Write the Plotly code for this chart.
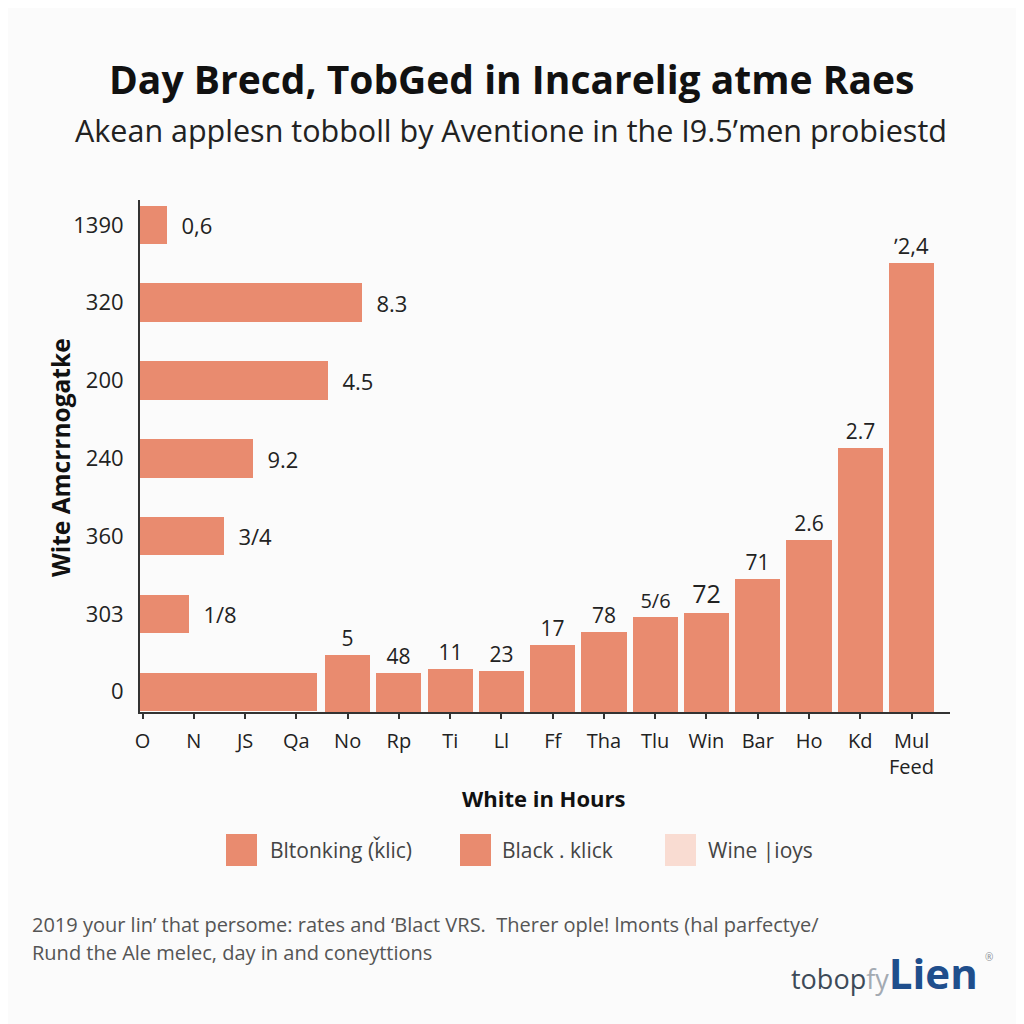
import plotly.graph_objects as go

# ---------------- data ----------------
x_categories = ["O", "N", "JS", "Qa", "No", "Rp", "Ti", "Ll", "Ff", "Tha", "Tlu", "Win", "Bar", "Ho", "Kd", "Mul"]
x_ticktext = ["O", "N", "JS", "Qa", "No", "Rp", "Ti", "Ll", "Ff", "Tha", "Tlu", "Win", "Bar", "Ho", "Kd", "Mul<br>Feed"]

col_categories = ["No", "Rp", "Ti", "Ll", "Ff", "Tha", "Tlu", "Win", "Bar", "Ho", "Kd", "Mul"]
col_values = [11.1, 7.6, 8.4, 8.0, 13.1, 15.6, 18.6, 19.3, 26.0, 33.6, 51.6, 87.7]
col_labels = ["5", "48", "11", "23", "17", "78", "5/6", "72", "71", "2.6", "2.7", "ʼ2,4"]
col_label_sizes = [21, 21, 21, 21, 21, 21, 20, 25, 21, 21, 21, 22]

row_categories = ["0", "303", "360", "240", "200", "320", "1390"]
row_values = [21.9, 6.0, 10.4, 14.0, 23.2, 27.4, 3.3]
row_labels = ["", "1/8", "3/4", "9.2", "4.5", "8.3", "0,6"]

legend_labels = ["Bltonking (ǩlic)", "Black . klick", "Wine |ioys"]

title_text = "Day Brecd, TobGed in Incarelig atme Raes"
subtitle_text = "Akean applesn tobboll by Aventione in the I9.5’men probiestd"
y_title = "Wite Amcrrnogatke"
x_title = "White in Hours"
foot_1 = "2019 your lin’ that persome: rates and ‘Blact VRS.  Therer ople! lmonts (hal parfectye/"
foot_2 = "Rund the Ale melec, day in and coneyttions"

# ---------------- style ----------------
BAR = "#e98b6f"
LIGHT = "#f9dcd2"
INK = "#222222"
FONT = "Open Sans"

# screen-space plot box (page body adds an 8px offset)
OFF = 8
SX0, SX1, SY0, SY1 = 140, 950, 200, 712
W, H = 1024, 1024
ML, MR = SX0 - OFF, W - (SX1 - OFF)
MT, MB = SY0 - OFF, H - (SY1 - OFF)
PW, PH = SX1 - SX0, SY1 - SY0


def px(xs):
    return (xs - SX0) / PW


def py(ys):
    return (SY1 - ys) / PH


fig = go.Figure()

fig.add_trace(go.Bar(
    x=col_categories, y=col_values, text=col_labels,
    texttemplate="%{text}", textposition="outside",
    textfont=dict(size=col_label_sizes, color=INK, family=FONT),
    marker=dict(color=BAR, line=dict(width=0)), width=0.88,
    cliponaxis=False, xaxis="x", yaxis="y", showlegend=False, hoverinfo="skip",
))

row_textpos = ["none" if lab == "" else "outside" for lab in row_labels]
fig.add_trace(go.Bar(
    y=row_categories, x=row_values, text=row_labels, orientation="h",
    texttemplate="  %{text}", textposition=row_textpos,
    textfont=dict(size=22, color=INK, family=FONT),
    marker=dict(color=BAR, line=dict(width=0)), width=0.495,
    cliponaxis=False, xaxis="x2", yaxis="y2", showlegend=False, hoverinfo="skip",
))

fig.update_layout(
    width=W, height=H, autosize=False,
    margin=dict(l=ML, r=MR, t=MT, b=MB, pad=0),
    paper_bgcolor="#fbfbfb", plot_bgcolor="#fbfbfb",
    font=dict(family=FONT, color=INK),
    bargap=0,
    xaxis=dict(
        type="category", categoryorder="array", categoryarray=x_categories,
        tickmode="array", tickvals=x_categories, ticktext=x_ticktext,
        range=[-0.05, 15.75], showline=True, linecolor="#333", linewidth=2,
        ticks="outside", ticklen=5, tickcolor="#333", tickwidth=1.5,
        tickfont=dict(size=20, color=INK, family=FONT), ticklabelstandoff=5,
        showgrid=False, zeroline=False, fixedrange=True,
    ),
    yaxis=dict(range=[0, 100], visible=False, fixedrange=True),
    xaxis2=dict(overlaying="x", range=[0, 100], visible=False, fixedrange=True),
    yaxis2=dict(
        overlaying="y", side="left", anchor="x",
        type="category", categoryorder="array", categoryarray=row_categories,
        range=[-0.26, 6.32], showline=True, linecolor="#333", linewidth=2,
        ticks="", tickfont=dict(size=22, color=INK, family=FONT),
        ticklabelstandoff=10, showgrid=False, zeroline=False, fixedrange=True,
    ),
)

annotations = [
    dict(text="<b>" + title_text + "</b>", x=px(511), y=py(78), font=dict(size=39, color="#111")),
    dict(text=subtitle_text, x=px(511), y=py(130), font=dict(size=30.5, color="#222")),
    dict(text="<b>" + y_title + "</b>", x=px(60), y=py(458), textangle=-90, font=dict(size=24.5, color="#111")),
    dict(text="<b>" + x_title + "</b>", x=px(543), y=py(798), font=dict(size=22, color="#111")),
    dict(text=foot_1, x=px(30), y=py(924), xanchor="left", font=dict(size=20, color="#555")),
    dict(text=foot_2, x=px(30), y=py(952), xanchor="left", font=dict(size=20, color="#555")),
    dict(text="<span style='color:#3d4a58'>tobop</span><span style='color:#a3aab2'>fy</span>"
              "<span style='color:#1f4e8c;font-size:42px;font-weight:bold'>Lien</span>",
         x=px(980), y=py(972), xanchor="right", font=dict(size=27)),
    dict(text="®", x=px(983), y=py(957), xanchor="left", font=dict(size=10, color="#8a8f96")),
]

swatch_x = [226, 460, 665]
swatch_colors = [BAR, BAR, LIGHT]
text_x = [268, 500, 706]
shapes = []
for sx, sc, tx, lab in zip(swatch_x, swatch_colors, text_x, legend_labels):
    shapes.append(dict(type="rect", xref="paper", yref="paper",
                       x0=px(sx), x1=px(sx + 31), y0=py(866), y1=py(834),
                       fillcolor=sc, line=dict(width=0), layer="above"))
    annotations.append(dict(text=lab, x=px(tx), y=py(850), xanchor="left",
                            font=dict(size=21, color="#444")))

for a in annotations:
    a.setdefault("xref", "paper")
    a.setdefault("yref", "paper")
    a.setdefault("xanchor", "center")
    a.setdefault("yanchor", "middle")
    a["showarrow"] = False
    a["font"].setdefault("family", FONT)

fig.update_layout(annotations=annotations, shapes=shapes)

fig.write_html("out.html")
